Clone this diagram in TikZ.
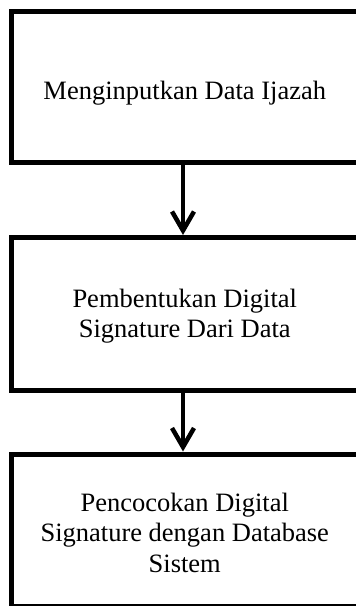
\documentclass[tikz,border=0pt]{standalone}
\usepackage{fontspec}
\setmainfont{Liberation Serif}
\usetikzlibrary{arrows.meta}
\begin{document}
\begin{tikzpicture}[x=1pt,y=-1pt,
  stepbox/.style={draw=black, line width=5pt, fill=white, minimum width=346.5pt, inner sep=0pt},
  steptext/.style={align=center, inner sep=0pt, font=\fontsize{26.5pt}{30.5pt}\selectfont},
  flow/.style={line width=4.5pt, -{Straight Barb[length=19pt,width=22pt,line width=4.5pt]}}]
\useasboundingbox (0,0) rectangle (356,606);
\clip (0,0) rectangle (356,606);
\node[stepbox, minimum height=151pt] (a) at (184.75,86.5) {};
\node[stepbox, minimum height=152.5pt] (b) at (184.75,313.75) {};
\node[stepbox, minimum height=152pt] (c) at (184.75,530) {};
\node[steptext] (at) at (184.75,93) {Menginputkan Data Ijazah};
\node[steptext] (bt) at (184.75,316) {Pembentukan Digital\\Signature Dari Data};
\node[steptext] (ct) at (184.75,532.5) {Pencocokan Digital\\Signature dengan Database\\Sistem};
\draw[flow] (a.south -| 183,0) -- (b.north -| 183,0);
\draw[flow] (b.south -| 183,0) -- (c.north -| 183,0);
\end{tikzpicture}
\end{document}
